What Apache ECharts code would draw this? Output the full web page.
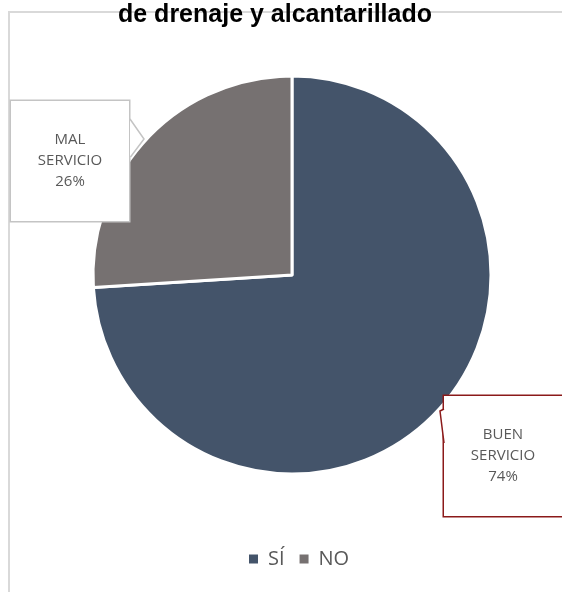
<!DOCTYPE html>
<html>
<head>
<meta charset="utf-8">
<script src="https://cdn.jsdelivr.net/npm/echarts@6/dist/echarts.min.js"></script>
<style>
html,body{margin:0;padding:0;background:#fff;}
#c{width:562px;height:592px;}
</style>
</head>
<body>
<div id="c"></div>
<script>
const titleText = 'de drenaje y alcantarillado';
const categories = ['SÍ', 'NO'];
const values = [74, 26];
const labelNames = ['BUEN\nSERVICIO', 'MAL\nSERVICIO'];
const colors = ['#44546A', '#767171'];

const labelBoxes = [
  {cx: 503, cy: 456, border: '#8B1A1A', width: 1.5},
  {cx: 70, cy: 161, border: '#C4C4C4', width: 1.5}
];

const chart = echarts.init(document.getElementById('c'), null, {renderer: 'canvas'});
chart.setOption({
  animation: false,
  backgroundColor: '#fff',
  color: colors,
  title: {
    text: titleText,
    left: 113,
    top: -2,
    textStyle: {fontFamily: 'Liberation Sans, Arial', fontWeight: 'bold', fontSize: 25, color: '#000'},
    z: 10
  },
  graphic: [{
    type: 'rect',
    z: 0,
    silent: true,
    shape: {x: 9, y: 12, width: 620, height: 640},
    style: {fill: 'none', stroke: '#D9D9D9', lineWidth: 2}
  }, {
    type: 'polygon',
    z: 100,
    silent: true,
    shape: {points: [[130, 119], [144, 139], [130, 157]]},
    style: {fill: '#fff', stroke: null}
  }, {
    type: 'polyline',
    z: 101,
    silent: true,
    shape: {points: [[130, 119], [144, 139], [130.5, 157]]},
    style: {fill: null, stroke: '#C4C4C4', lineWidth: 1.5}
  }, {
    type: 'polygon',
    z: 100,
    silent: true,
    shape: {points: [[444, 409], [440, 411], [444, 443]]},
    style: {fill: '#fff', stroke: null}
  }, {
    type: 'polyline',
    z: 101,
    silent: true,
    shape: {points: [[444, 409], [440, 411], [444, 443]]},
    style: {fill: null, stroke: '#8B1A1A', lineWidth: 1.5}
  }],
  legend: {
    data: categories,
    bottom: 18,
    left: 242,
    itemWidth: 11,
    itemHeight: 11,
    itemGap: 13,
    icon: 'rect',
    textStyle: {fontFamily: 'Open Sans', fontSize: 20, color: '#595959', padding: [0, 0, 0, 4]}
  },
  series: [{
    type: 'pie',
    center: [292, 275],
    radius: 199,
    startAngle: 90,
    clockwise: true,
    data: categories.map((c, i) => ({
      name: c,
      value: values[i],
      label: {
        borderColor: labelBoxes[i].border,
        borderWidth: labelBoxes[i].width
      }
    })),
    itemStyle: {borderColor: '#fff', borderWidth: 3},
    labelLine: {show: false},
    label: {
      show: true,
      position: 'outside',
      formatter: p => labelNames[p.dataIndex] + '\n' + p.value + '%',
      fontFamily: 'Open Sans',
      fontSize: 15,
      lineHeight: 21,
      color: '#595959',
      backgroundColor: '#fff',
      width: 118,
      height: 120,
      align: 'center',
      verticalAlign: 'middle',
      padding: 0
    },
    labelLayout: p => ({
      x: labelBoxes[p.dataIndex].cx,
      y: labelBoxes[p.dataIndex].cy,
      align: 'center',
      verticalAlign: 'middle'
    })
  }]
});
</script>
</body>
</html>
